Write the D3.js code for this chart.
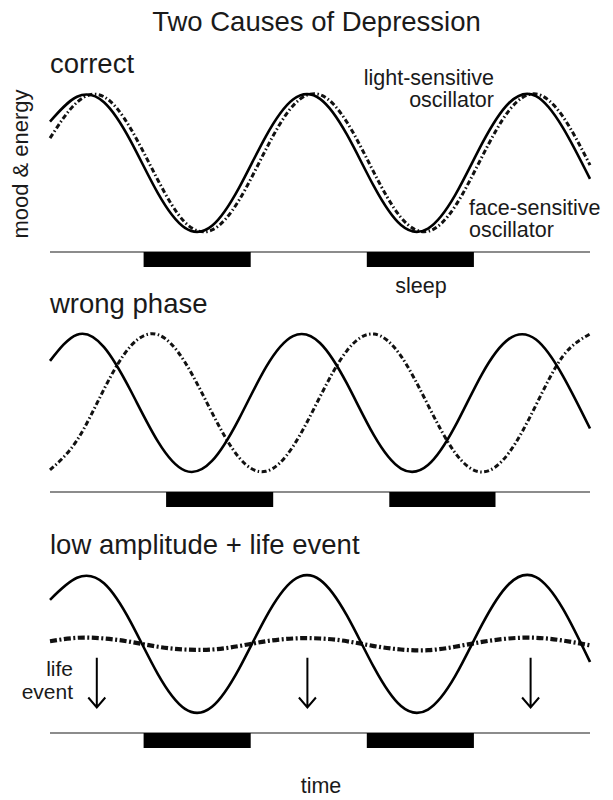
<!DOCTYPE html>
<html>
<head>
<meta charset="utf-8">
<script src="https://cdn.jsdelivr.net/npm/d3@7"></script>
<style>
  body { margin: 0; background: #fff; }
  text { font-family: "Liberation Sans", Arial, Helvetica, sans-serif; fill: #1a1a1a; }
</style>
</head>
<body>
<svg id="chart" width="613" height="800"></svg>
<script>
// ---- data (time in arbitrary hours, mood & energy normalised to -1..1) ----
const hours = [0, 3, 6, 9, 12, 15, 18, 21, 24, 27, 30, 33, 36, 39, 42, 45, 48, 51, 54, 57, 60];

const correctLight = [0.6, 0.96, 0.88, 0.31, -0.44, -0.94, -0.91, -0.36, 0.39, 0.92, 0.93, 0.41, -0.34, -0.9, -0.95, -0.47, 0.28, 0.87, 0.97, 0.51, -0.23];
const correctFace  = [0.36, 0.88, 0.96, 0.49, -0.25, -0.86, -0.97, -0.54, 0.2, 0.83, 0.99, 0.59, -0.14, -0.79, -0.99, -0.63, 0.09, 0.76, 1.0, 0.67, -0.03];

const wrongLight = [0.61, 0.99, 0.81, 0.17, -0.56, -0.98, -0.84, -0.23, 0.52, 0.97, 0.87, 0.28, -0.47, -0.95, -0.9, -0.34, 0.42, 0.93, 0.92, 0.39, -0.37];
const wrongFace  = [-0.97, -0.54, 0.2, 0.83, 0.99, 0.59, -0.14, -0.79, -0.99, -0.63, 0.09, 0.76, 1.0, 0.68, -0.03, -0.72, -1.0, -0.72, -0.03, 0.68, 1.0];

const lowLight = [0.64, 0.96, 0.88, 0.31, -0.44, -0.94, -0.91, -0.36, 0.39, 0.92, 0.93, 0.41, -0.34, -0.9, -0.95, -0.47, 0.28, 0.87, 0.97, 0.51, -0.26];
const lowFace  = [0.04, 0.09, 0.08, 0.03, -0.04, -0.08, -0.08, -0.03, 0.04, 0.08, 0.08, 0.04, -0.03, -0.08, -0.09, -0.04, 0.03, 0.08, 0.09, 0.05, -0.02];

const sleepCorrect = [[10.4, 22.3], [35.2, 47.1]];
const sleepWrong   = [[12.9, 24.8], [37.7, 49.5]];
const sleepLow     = [[10.4, 22.3], [35.2, 47.1]];

const lifeEventTimes = [5.2, 28.6, 53.4];
const lifeEventRange = [-0.2, -0.92];

const panelTitles = ["correct", "wrong phase", "low amplitude + life event"];

// ---- drawing ----
const svg = d3.select("#chart");
const x = d3.scaleLinear().domain([0, 60]).range([50, 590]);

const panels = [
  { title: panelTitles[0], light: correctLight, face: correctFace, sleep: sleepCorrect, off: 0,   faceW: 3,   faceDash: "5,2.5,1.5,2.5" },
  { title: panelTitles[1], light: wrongLight,   face: wrongFace,   sleep: sleepWrong,   off: 240, faceW: 3,   faceDash: "5,2.5,1.5,2.5" },
  { title: panelTitles[2], light: lowLight,     face: lowFace,     sleep: sleepLow,     off: 481, faceW: 4.2, faceDash: "7,2.5,2,2.5" }
];

svg.append("text")
  .attr("x", 316.5).attr("y", 31)
  .attr("text-anchor", "middle")
  .style("font-size", "27.5px")
  .text("Two Causes of Depression");

panels.forEach((p, i) => {
  const g = svg.append("g");
  const y = d3.scaleLinear().domain([-1, 1]).range([232 + p.off, 94 + p.off]);
  const baseY = 252 + p.off;

  g.append("text")
    .attr("x", 50).attr("y", 73 + p.off)
    .style("font-size", "27.5px")
    .text(p.title);

  const line = d3.line()
    .x((d, j) => x(hours[j]))
    .y(d => y(d))
    .curve(d3.curveNatural);

  g.append("path")
    .attr("d", line(p.face))
    .attr("fill", "none")
    .attr("stroke", "#111")
    .attr("stroke-width", p.faceW)
    .attr("stroke-dasharray", p.faceDash);

  g.append("path")
    .attr("d", line(p.light))
    .attr("fill", "none")
    .attr("stroke", "#000")
    .attr("stroke-width", 2.6);

  g.append("line")
    .attr("x1", x(0)).attr("x2", x(60))
    .attr("y1", baseY).attr("y2", baseY)
    .attr("stroke", "#666").attr("stroke-width", 1.5);

  g.selectAll("rect.sleep").data(p.sleep).enter().append("rect")
    .attr("class", "sleep")
    .attr("x", d => x(d[0]))
    .attr("width", d => x(d[1]) - x(d[0]))
    .attr("y", baseY)
    .attr("height", 15)
    .attr("fill", "#000");

  if (i === 2) {
    lifeEventTimes.forEach(t => {
      const ax = x(t), y0 = y(lifeEventRange[0]), y1 = y(lifeEventRange[1]);
      g.append("path")
        .attr("d", `M${ax},${y0}L${ax},${y1}M${ax - 8.5},${y1 - 10}L${ax},${y1}L${ax + 8.5},${y1 - 10}`)
        .attr("fill", "none").attr("stroke", "#000").attr("stroke-width", 2);
    });
    g.append("text").attr("x", 73).attr("y", 676).attr("text-anchor", "end")
      .style("font-size", "21px").text("life");
    g.append("text").attr("x", 73).attr("y", 699).attr("text-anchor", "end")
      .style("font-size", "21px").text("event");
  }
});

// annotations
const ann = [
  { t: "light-sensitive", x: 494, y: 85, a: "end" },
  { t: "oscillator", x: 494, y: 107, a: "end" },
  { t: "face-sensitive", x: 469, y: 215, a: "start" },
  { t: "oscillator", x: 469, y: 237, a: "start" },
  { t: "sleep", x: 421, y: 293, a: "middle" },
  { t: "time", x: 321, y: 793, a: "middle" }
];
svg.selectAll("text.ann").data(ann).enter().append("text")
  .attr("class", "ann")
  .attr("x", d => d.x).attr("y", d => d.y)
  .attr("text-anchor", d => d.a)
  .style("font-size", "21.5px")
  .text(d => d.t);

svg.append("text")
  .attr("transform", "translate(28,164) rotate(-90)")
  .attr("text-anchor", "middle")
  .style("font-size", "22px")
  .text("mood & energy");
</script>
</body>
</html>
